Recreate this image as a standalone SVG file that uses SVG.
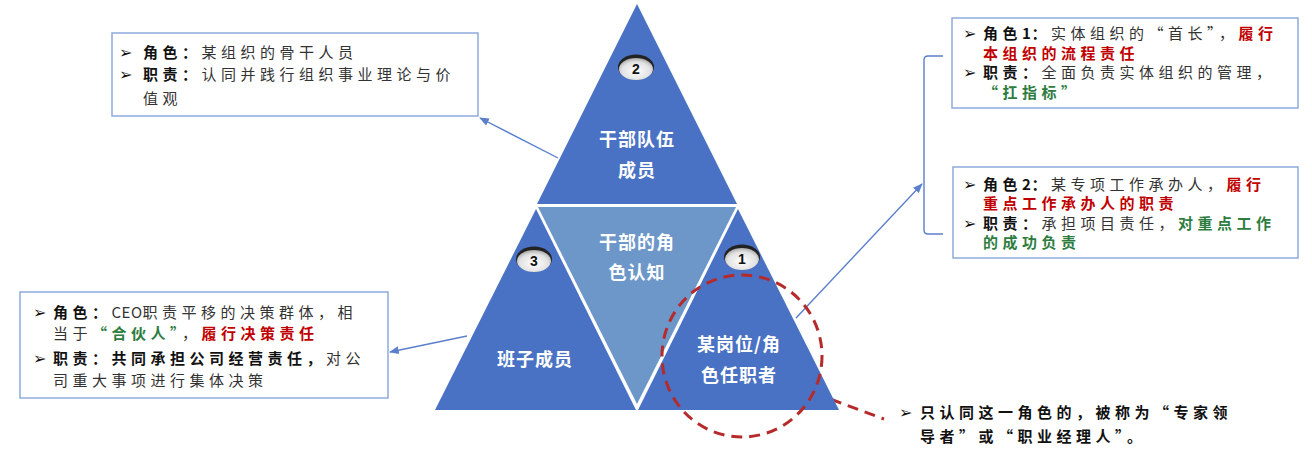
<svg xmlns="http://www.w3.org/2000/svg" width="1312" height="468" viewBox="0 0 1312 468">
<defs>
<style>
.box{fill:#fff;stroke:#8faadc;stroke-width:1.5}
.tri{fill:#4a72c4}
.mid{fill:#6d97c9}
.tt{font-family:"Noto Sans CJK SC","Liberation Sans",sans-serif;font-size:18px;font-weight:bold;fill:#fff;text-anchor:middle;letter-spacing:1px}
.bt{font-family:"Noto Sans CJK SC","Liberation Sans",sans-serif;font-size:15px;fill:#333;letter-spacing:4.5px}
.b{font-weight:bold;fill:#111}
.r{font-weight:bold;fill:#c00000}
.g{font-weight:bold;fill:#2e7d3f}
.lat{letter-spacing:0.5px}
.bul{font-family:"DejaVu Sans",sans-serif;font-size:16px;fill:#111}
.num{font-family:"Liberation Sans",sans-serif;font-size:14px;font-weight:bold;fill:#111;text-anchor:middle}
.conn{stroke:#5b7fcc;stroke-width:1.4;fill:none}
.red{stroke:#b52a2a;stroke-width:3;fill:none;stroke-dasharray:11 7}
</style>
<radialGradient id="bg" cx="50%" cy="60%" r="60%">
<stop offset="0" stop-color="#ffffff"/>
<stop offset="0.7" stop-color="#e2e2e2"/>
<stop offset="1" stop-color="#a8a8a8"/>
</radialGradient>
<marker id="ah" viewBox="0 0 10 10" refX="9" refY="5" markerWidth="7" markerHeight="7" orient="auto-start-reverse">
<path d="M0,1 L10,5 L0,9 z" fill="#5b7fcc"/>
</marker>
</defs>
<rect width="1312" height="468" fill="#fff"/>

<g id="connectors">
<line class="conn" x1="558" y1="158" x2="480" y2="118" marker-end="url(#ah)"/>
<line class="conn" x1="467" y1="336" x2="390" y2="352" marker-end="url(#ah)"/>
<line class="conn" x1="796" y1="318" x2="922" y2="184" marker-end="url(#ah)"/>
<path class="conn" d="M943,56 L928,56 Q924,56 924,60 L924,230 Q924,234 928,234 L943,234"/>
<line class="red" x1="814" y1="393" x2="884" y2="419"/>
</g>

<g id="tri-top">
<polygon class="tri" points="637,4 737,204 537,204"/>
<text class="tt" x="637" y="146">干部队伍</text>
<text class="tt" x="637" y="177">成员</text>
</g>
<g id="tri-mid">
<polygon class="mid" points="538,207 736,207 637,404"/>
<text class="tt" x="637" y="249">干部的角</text>
<text class="tt" x="637" y="279">色认知</text>
</g>
<g id="tri-left">
<polygon class="tri" points="536,209 435,410 636,410"/>
<text class="tt" x="535" y="366">班子成员</text>
</g>
<g id="tri-right">
<polygon class="tri" points="738,209 638,410 839,410"/>
<text class="tt" x="739" y="351">某岗位/角</text>
<text class="tt" x="739" y="382">色任职者</text>
</g>

<g id="badge-2">
<ellipse cx="636" cy="67" rx="18" ry="12.5" fill="#222"/>
<ellipse cx="636" cy="69" rx="17" ry="11" fill="url(#bg)"/>
<text class="num" x="636" y="74">2</text>
</g>
<g id="badge-3">
<ellipse cx="534" cy="259" rx="18" ry="12.5" fill="#222"/>
<ellipse cx="534" cy="261" rx="17" ry="11" fill="url(#bg)"/>
<text class="num" x="534" y="266">3</text>
</g>
<g id="badge-1">
<ellipse cx="742" cy="257" rx="18" ry="12.5" fill="#222"/>
<ellipse cx="742" cy="259" rx="17" ry="11" fill="url(#bg)"/>
<text class="num" x="742" y="264">1</text>
</g>

<g id="highlight">
<ellipse class="red" cx="742" cy="356" rx="80" ry="81"/>
</g>

<g id="box-top-left">
<rect class="box" x="112" y="33" width="366" height="83"/>
<text class="bul" x="119" y="58">➢</text>
<text class="bt" x="143" y="58"><tspan class="b">角色：</tspan>某组织的骨干人员</text>
<text class="bul" x="119" y="80">➢</text>
<text class="bt" x="143" y="80"><tspan class="b">职责：</tspan>认同并践行组织事业理论与价</text>
<text class="bt" x="143" y="104">值观</text>
</g>

<g id="box-right-1">
<rect class="box" x="952" y="18" width="346" height="90"/>
<text class="bul" x="963" y="39">➢</text>
<text class="bt" x="983" y="39"><tspan class="b">角色<tspan class="lat">1</tspan>：</tspan>实体组织的“首长”，<tspan class="r">履行</tspan></text>
<text class="bt" x="983" y="59"><tspan class="r">本组织的流程责任</tspan></text>
<text class="bul" x="963" y="78">➢</text>
<text class="bt" x="983" y="78"><tspan class="b">职责：</tspan>全面负责实体组织的管理，</text>
<text class="bt" x="983" y="98"><tspan class="g">“扛指标”</tspan></text>
</g>

<g id="box-right-2">
<rect class="box" x="953" y="167" width="345" height="91"/>
<text class="bul" x="963" y="190">➢</text>
<text class="bt" x="983" y="190"><tspan class="b">角色<tspan class="lat">2</tspan>：</tspan>某专项工作承办人，<tspan class="r">履行</tspan></text>
<text class="bt" x="983" y="209"><tspan class="r">重点工作承办人的职责</tspan></text>
<text class="bul" x="963" y="229">➢</text>
<text class="bt" x="983" y="229"><tspan class="b">职责：</tspan>承担项目责任，<tspan class="g">对重点工作</tspan></text>
<text class="bt" x="983" y="248"><tspan class="g">的成功负责</tspan></text>
</g>

<g id="box-left">
<rect class="box" x="20" y="292" width="368" height="106"/>
<text class="bul" x="33" y="318">➢</text>
<text class="bt" x="53" y="318"><tspan class="b">角色：</tspan><tspan class="lat">CEO</tspan>职责平移的决策群体，相</text>
<text class="bt" x="53" y="339">当于<tspan class="g">“合伙人”</tspan>，<tspan class="r">履行决策责任</tspan></text>
<text class="bul" x="33" y="364">➢</text>
<text class="bt" x="53" y="364"><tspan class="b">职责：共同承担公司经营责任，</tspan>对公</text>
<text class="bt" x="53" y="386">司重大事项进行集体决策</text>
</g>

<g id="note">
<text class="bul" x="899" y="418">➢</text>
<text class="bt" x="920" y="418"><tspan class="b">只认同这一角色的，被称为“专家领</tspan></text>
<text class="bt" x="920" y="442"><tspan class="b">导者”或“职业经理人”。</tspan></text>
</g>
</svg>
